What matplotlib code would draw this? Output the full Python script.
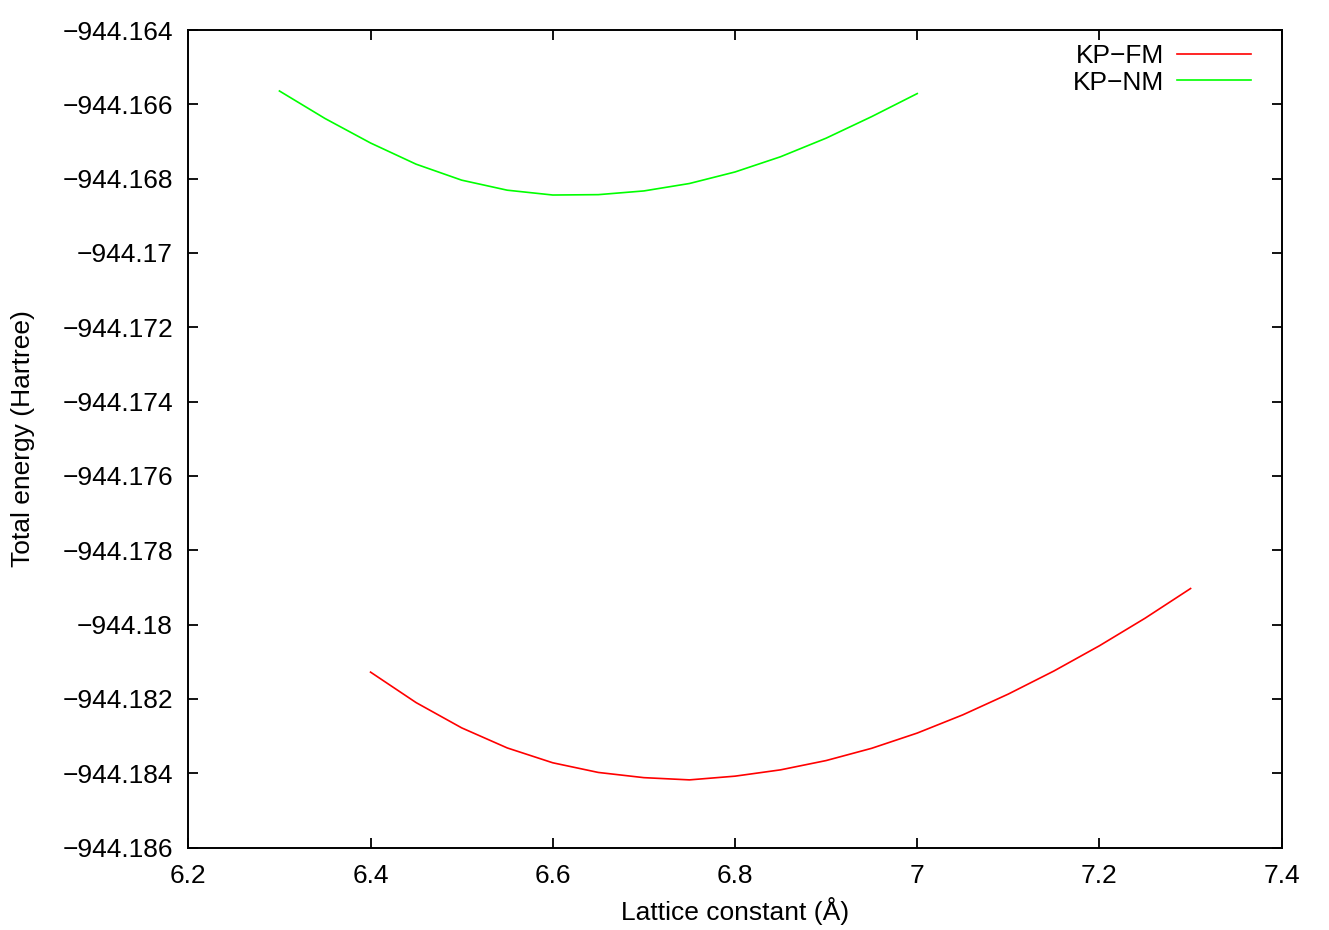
import matplotlib
matplotlib.use("Agg")
import matplotlib.pyplot as plt
from matplotlib.ticker import MultipleLocator, FuncFormatter

plt.rcParams['font.family'] = ['Liberation Sans', 'DejaVu Sans']

# KP-FM (red)
fm_a = [6.40, 6.45, 6.50, 6.55, 6.60, 6.65, 6.70, 6.75, 6.80, 6.85,
        6.90, 6.95, 7.00, 7.05, 7.10, 7.15, 7.20, 7.25, 7.30]
fm_e = [-944.18128, -944.18210, -944.18278, -944.18332, -944.18372,
        -944.18398, -944.18412, -944.18418, -944.18408, -944.18391,
        -944.18366, -944.18333, -944.18292, -944.18243, -944.18187,
        -944.18125, -944.18057, -944.17983, -944.17903]

# KP-NM (green)
nm_a = [6.30, 6.35, 6.40, 6.45, 6.50, 6.55, 6.60, 6.65,
        6.70, 6.75, 6.80, 6.85, 6.90, 6.95, 7.00]
nm_e = [-944.16564, -944.16638, -944.16704, -944.16761, -944.16804,
        -944.16831, -944.16844, -944.16843, -944.16833, -944.16813,
        -944.16782, -944.16741, -944.16691, -944.16633, -944.16571]


def fmt(v, pos):
    return ('%g' % round(v, 6)).replace('-', '\u2212')


fig = plt.figure(figsize=(13.29, 9.30), dpi=100)
ax = fig.add_axes([0.1417, 0.0887, 0.8227, 0.879])

ax.plot(fm_a, fm_e, color='#ff0000', lw=1.2, label='KP\u2212FM')
ax.plot(nm_a, nm_e, color='#00ff00', lw=1.2, label='KP\u2212NM')

ax.set_xlim(6.2, 7.4)
ax.set_ylim(-944.186, -944.164)
ax.xaxis.set_major_locator(MultipleLocator(0.2))
ax.yaxis.set_major_locator(MultipleLocator(0.002))
ax.xaxis.set_major_formatter(FuncFormatter(fmt))
ax.yaxis.set_major_formatter(FuncFormatter(fmt))

ax.tick_params(direction='in', length=7.5, width=1.3, labelsize=19,
               top=True, right=True)
ax.tick_params(axis='y', pad=11)
ax.tick_params(axis='x', pad=12)
for s in ax.spines.values():
    s.set_linewidth(1.4)

ax.set_xlabel('Lattice constant (\u00c5)', fontsize=19, labelpad=6)
ax.set_ylabel('Total energy (Hartree)', fontsize=19, labelpad=20)

ax.legend(loc='upper right', bbox_to_anchor=(0.972, 0.983), frameon=False,
          markerfirst=False, fontsize=19, handlelength=2.8,
          handletextpad=0.5, labelspacing=0.1, borderpad=0,
          borderaxespad=0)

fig.savefig('out.png', dpi=100)
